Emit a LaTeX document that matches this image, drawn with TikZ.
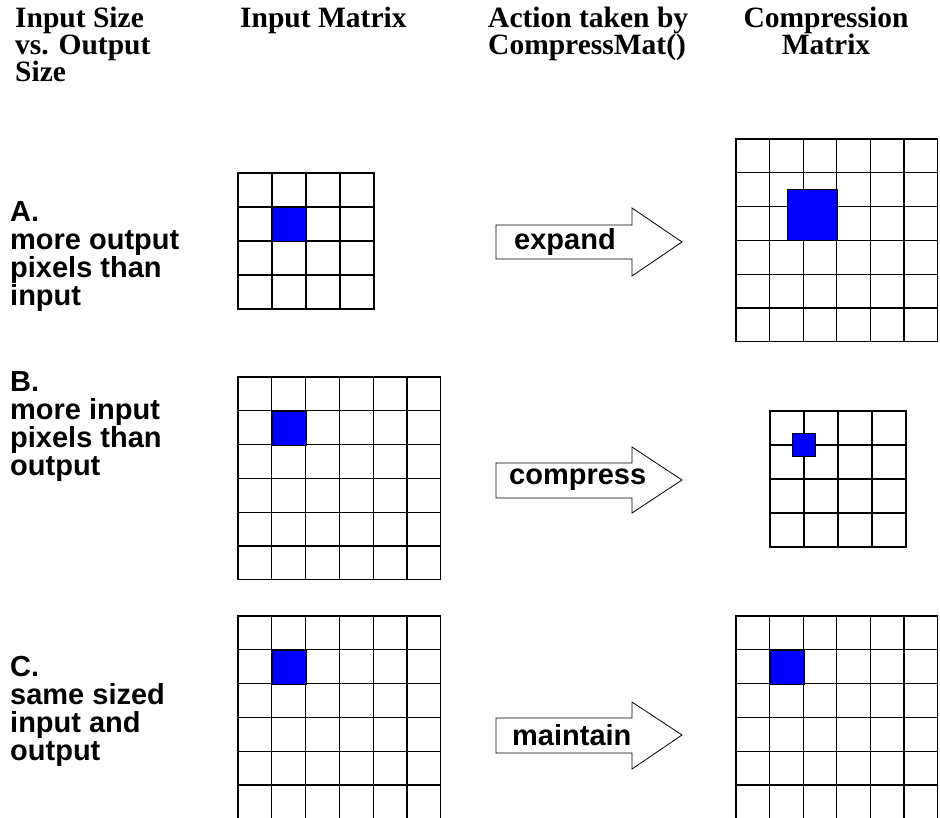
\documentclass[tikz,border=0pt]{standalone}
\usepackage{fontspec}
\setmainfont{Liberation Serif}
\newfontfamily\labelfont{Liberation Sans}

\begin{document}
\begin{tikzpicture}[x=1pt,y=-1pt,
    head/.style={font=\bfseries\fontsize{29.5}{27}\selectfont, inner sep=0pt, align=left, anchor=north west},
    rowlbl/.style={font=\labelfont\bfseries\fontsize{29}{28}\selectfont, align=left, anchor=north west, inner sep=0pt},
    actlbl/.style={font=\labelfont\bfseries\fontsize{29}{29}\selectfont, inner sep=0pt, anchor=west},
    cell/.style={draw=black, line width=1.3pt},
    pix/.style={fill=blue, draw=black, line width=0.7pt},
    blockarrow/.style={draw=black, line width=0.8pt, fill=white}]
    \useasboundingbox (0,0) rectangle (940,817);
    \clip (0,0) rectangle (940,817);

    % column heads
    \node[head] (hdsize) at (15,7) {Input Size\\vs. Output\\Size};
    \node[head] (hdinput) at (240,7) {Input Matrix};
    \node[head] (hdaction) at (488,7) {Action taken by\\CompressMat()};
    \node[head, align=center, anchor=north] (hdout) at (826,7) {Compression\\Matrix};

    % row labels
    \node[rowlbl] (rowA) at (10,201) {A.\\more output\\pixels than\\input};
    \node[rowlbl] (rowB) at (10,371) {B.\\more input\\pixels than\\output};
    \node[rowlbl] (rowC) at (10,656) {C.\\same sized\\input and\\output};

    % A: 4x4 in, 6x6 out
    \foreach \i in {0,...,3}
      \foreach \j in {0,...,3}
        \draw[cell] ({238+34*\i},{173+34*\j}) rectangle ++(34,34);
    \filldraw[pix] (272,207) rectangle (306,241);
    \foreach \i in {0,...,5}
      \foreach \j in {0,...,5}
        \draw[cell] ({736+33.6*\i},{139+33.8*\j}) rectangle ++(33.6,33.8);
    \filldraw[pix] (787,189) rectangle (837,240);

    % B: 6x6 in, 4x4 out
    \foreach \i in {0,...,5}
      \foreach \j in {0,...,5}
        \draw[cell] ({238+33.8*\i},{377+33.8*\j}) rectangle ++(33.8,33.8);
    \filldraw[pix] (272,411) rectangle (306,445);
    \foreach \i in {0,...,3}
      \foreach \j in {0,...,3}
        \draw[cell] ({770+34*\i},{411+34*\j}) rectangle ++(34,34);
    \filldraw[pix] (792.5,433.5) rectangle (815.5,456.5);

    % C: 6x6 in, 6x6 out
    \foreach \i in {0,...,5}
      \foreach \j in {0,...,5}
        \draw[cell] ({238+33.8*\i},{616+33.8*\j}) rectangle ++(33.8,33.8);
    \filldraw[pix] (272,650) rectangle (306,684);
    \foreach \i in {0,...,5}
      \foreach \j in {0,...,5}
        \draw[cell] ({736+33.6*\i},{616+33.8*\j}) rectangle ++(33.6,33.8);
    \filldraw[pix] (770,650) rectangle (804,684);

    % block arrows
    \draw[blockarrow] (496,225) -- (632,225) -- (632,208) -- (682,242) -- (632,276) -- (632,259) -- (496,259) -- cycle;
    \node[actlbl] (expand) at (514,242) {expand};
    \draw[blockarrow] (496,463) -- (632,463) -- (632,447) -- (682,480) -- (632,513) -- (632,498) -- (496,498) -- cycle;
    \node[actlbl] (compress) at (509,480) {compress};
    \draw[blockarrow] (496,718) -- (632,718) -- (632,702) -- (682,735) -- (632,769) -- (632,753) -- (496,753) -- cycle;
    \node[actlbl] (maintain) at (512,735) {maintain};
  \end{tikzpicture}
\end{document}
